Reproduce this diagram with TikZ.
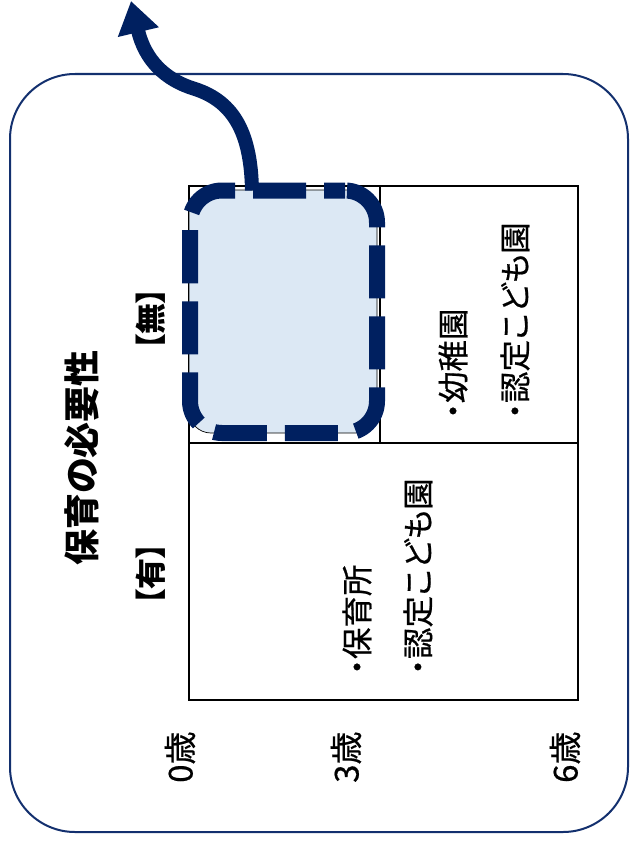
\documentclass[tikz,border=0pt]{standalone}
\usepackage{fontspec}
\setmainfont{Noto Sans CJK JP}[RawFeature=+palt]
\newfontfamily\jpmed{Noto Sans CJK JP}[RawFeature=+palt, FakeBold=0.6]
\usetikzlibrary{arrows.meta}
\definecolor{navy}{HTML}{002060}
\definecolor{framecol}{HTML}{13306E}
\definecolor{pale}{HTML}{DCE8F4}
\begin{document}
\begin{tikzpicture}[x=1pt,y=-1pt,
  cell/.style={draw=black, line width=2pt, inner sep=0pt},
  zonebox/.style={draw=black, line width=0.7pt, fill=pale, rounded corners=22pt, inner sep=0pt},
  selbox/.style={draw=navy, line width=16pt, rounded corners=32pt, inner sep=0pt,
                 dash pattern=on 53pt off 18pt, dash phase=32pt},
  flow/.style={draw=navy, line width=14pt, -{Triangle[width=40pt,length=32pt]}},
  vtext/.style={rotate=90, inner sep=0pt, font=\jpmed\fontsize{31.5}{34}\selectfont},
  agetext/.style={rotate=90, inner sep=0pt, font=\jpmed\fontsize{33}{36}\selectfont},
  vbold/.style={rotate=90, inner sep=0pt, font=\bfseries\fontsize{31}{34}\selectfont}]
\useasboundingbox (0,0) rectangle (630,843);
% outer frame
\draw[framecol, line width=2pt, rounded corners=65pt] (10,74) rectangle (628,832);
% grid cells
\node (upperL) [cell, minimum width=191pt, minimum height=257pt] at (284.5,314.5) {};
\node (upperR) [cell, minimum width=198pt, minimum height=257pt] at (479,314.5) {};
\node (lower)  [cell, minimum width=389pt, minimum height=257pt] at (383.5,571.5) {};
% highlighted zone
\node (zone) [zonebox, minimum width=188pt, minimum height=243pt] at (283,311.5) {};
\node (sel) [selbox, minimum width=187pt, minimum height=242.5pt] at (283.5,311.75) {};
% arrow
\coordinate (start) at ([xshift=-31.5pt,yshift=-8pt]sel.north);
\coordinate (tip) at (131,1);
\draw[flow] (start) .. controls (251,135) and (235,102) .. (195,89)
  .. controls (165,80) and (145,60) .. (tip);
% labels
\node (title) [rotate=90, inner sep=0pt, font=\bfseries\fontsize{36}{40}\selectfont] at (82,458) {保育の必要性};
\node (nashi) [vbold] at (151,319) {【無】};
\node (ari) [vbold] at (151,574) {【有】};
\node (hoikusho) [vtext, anchor=west] at (357,675) {・保育所};
\node (nintei1) [vtext, anchor=west] at (418,675) {・認定こども園};
\node (youchien) [vtext, anchor=west] at (453,419) {・幼稚園};
\node (nintei2) [vtext, anchor=west] at (515,419) {・認定こども園};
\node (age0) [agetext, anchor=west] at (180,783) {0歳};
\node (age3) [agetext, anchor=west] at (346,783) {3歳};
\node (age6) [agetext, anchor=west] at (565,783) {6歳};
\end{tikzpicture}
\end{document}
